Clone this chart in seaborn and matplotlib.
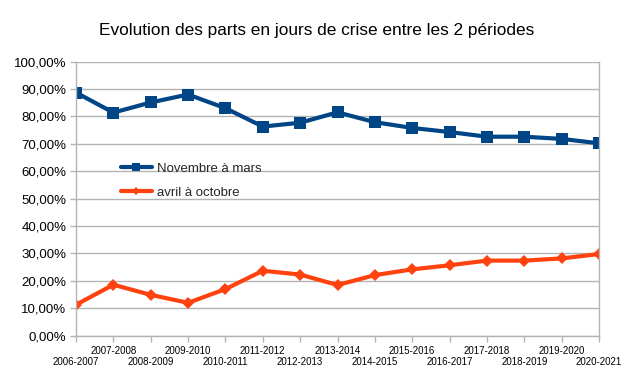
import numpy as np
import pandas as pd
import matplotlib
matplotlib.use('Agg')
import matplotlib.pyplot as plt
import seaborn as sns

# ── Données ────────────────────────────────────────────────────────────────
periodes = ['2006-2007', '2007-2008', '2008-2009', '2009-2010', '2010-2011',
            '2011-2012', '2012-2013', '2013-2014', '2014-2015', '2015-2016',
            '2016-2017', '2017-2018', '2018-2019', '2019-2020', '2020-2021']
novembre_mars = [88.7, 81.4, 85.1, 88.0, 83.0, 76.3, 77.7, 81.5, 77.9, 75.8,
                 74.3, 72.6, 72.6, 71.8, 70.2]
avril_octobre = [11.3, 18.6, 14.9, 12.0, 17.0, 23.7, 22.3, 18.5, 22.1, 24.2,
                 25.7, 27.4, 27.4, 28.2, 29.8]

BLEU = '#004586'; ORANGE = '#ff420e'; GRILLE = '#b3b3b3'

sns.set_theme(style='white')
plt.rcParams['font.family'] = ['Liberation Sans', 'DejaVu Sans']

df = pd.DataFrame({'pos': np.arange(len(periodes)),
                   'Novembre à mars': novembre_mars,
                   'avril à octobre': avril_octobre})

fig = plt.figure(figsize=(6.34, 3.75), dpi=100)
ax = fig.add_axes([0.1199, 0.1048, 0.9448 - 0.1199, 0.8357 - 0.1048])

sns.lineplot(data=df, x='pos', y='Novembre à mars', ax=ax, color=BLEU, lw=3,
             marker='s', markersize=8, markeredgewidth=0, label='Novembre à mars')
sns.lineplot(data=df, x='pos', y='avril à octobre', ax=ax, color=ORANGE, lw=3,
             marker='D', markersize=6.5, markeredgewidth=0, label='avril à octobre')

ax.set_xlim(0, len(periodes) - 1)
ax.set_ylim(0, 100)
ax.set_yticks(np.arange(0, 101, 10))
ax.set_yticklabels([f'{v:.2f}%'.replace('.', ',') for v in np.arange(0, 101, 10)],
                   fontsize=9.5, color='#000000')
# étiquettes en quinconce : rang bas (major) / rang haut (minor)
pos = df['pos'].values
ax.set_xticks(pos[0::2], periodes[0::2], fontsize=7, color='#000000')
ax.set_xticks(pos[1::2], periodes[1::2], minor=True, fontsize=7, color='#000000')
ax.set_xlabel(''); ax.set_ylabel('')
ax.grid(axis='y', color=GRILLE, lw=1)
ax.tick_params(axis='both', which='both', direction='out', length=4, width=1,
               color=GRILLE, bottom=True, left=True, pad=3)
ax.tick_params(axis='x', which='major', pad=11.5)
ax.tick_params(axis='x', which='minor', pad=3.5)
for nom, sp in ax.spines.items():
    sp.set_color(GRILLE); sp.set_linewidth(1)
ax.spines['top'].set_visible(False)

ax.legend(loc='upper left', bbox_to_anchor=(0.075, 0.65), frameon=False,
          fontsize=9.5, handlelength=2.4, handletextpad=0.4, labelspacing=0.85,
          borderaxespad=0, markerscale=0.7)

fig.text(0.5, 0.92, 'Evolution des parts en jours de crise entre les 2 périodes',
         ha='center', va='center', fontsize=12.4, color='#000000')

fig.savefig('out.png', dpi=100)
